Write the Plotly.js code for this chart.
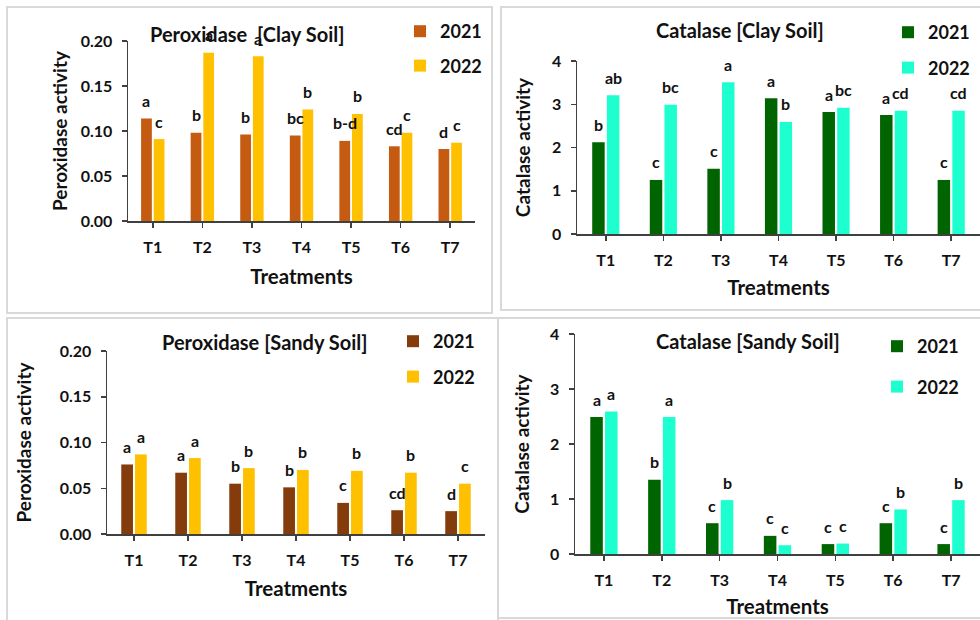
<!DOCTYPE html>
<html>
<head>
<meta charset="utf-8">
<script src="https://cdn.plot.ly/plotly-3.0.1.min.js"></script>
<style>html,body{margin:0;padding:0;background:#fff;}#chart{width:980px;height:620px;}</style>
</head>
<body>
<div id="chart"></div>
<script>
// ---- data ----
const categories = ['T1','T2','T3','T4','T5','T6','T7'];
const seriesNames = ['2021','2022'];

const peroxClay2021 = [0.114, 0.098, 0.096, 0.095, 0.089, 0.083, 0.080];
const peroxClay2022 = [0.091, 0.187, 0.183, 0.124, 0.119, 0.098, 0.087];
const peroxClayLetters2021 = ['a','b','b','bc','b-d','cd','d'];
const peroxClayLetters2022 = ['c','a','a','b','b','c','c'];

const catClay2021 = [2.12, 1.25, 1.51, 3.14, 2.82, 2.75, 1.25];
const catClay2022 = [3.21, 2.99, 3.51, 2.59, 2.92, 2.85, 2.85];
const catClayLetters2021 = ['b','c','c','a','a','a','c'];
const catClayLetters2022 = ['ab','bc','a','b','bc','cd','cd'];

const peroxSandy2021 = [0.076, 0.067, 0.055, 0.051, 0.034, 0.026, 0.025];
const peroxSandy2022 = [0.087, 0.083, 0.072, 0.070, 0.069, 0.067, 0.055];
const peroxSandyLetters2021 = ['a','a','b','b','c','cd','d'];
const peroxSandyLetters2022 = ['a','a','b','b','b','b','c'];

const catSandy2021 = [2.49, 1.35, 0.56, 0.33, 0.18, 0.56, 0.18];
const catSandy2022 = [2.59, 2.49, 0.98, 0.16, 0.19, 0.81, 0.98];
const catSandyLetters2021 = ['a','b','c','c','c','c','c'];
const catSandyLetters2022 = ['a','a','b','c','c','b','b'];

const titles = ['Peroxidase  [Clay Soil]','Catalase [Clay Soil]','Peroxidase [Sandy Soil]','Catalase [Sandy Soil]'];
const yTitles = ['Peroxidase activity','Catalase activity','Peroxidase activity','Catalase activity'];
const xTitle = 'Treatments';

// ---- styling / layout ----
const W = 980, H = 620;
const FONT = 'Lato, "Open Sans", "Liberation Sans", sans-serif';
const BARGAP = 0.49, BARGROUPGAP = 0.15;

const panels = [
  {v:[peroxClay2021, peroxClay2022], l:[peroxClayLetters2021, peroxClayLetters2022],
   colors:['#C55A11','#FFC000'], x:[128,475], y:[221,41], range:[0,0.2], dtick:0.05, fmt:'.2f',
   ystand:8, xstand:15, title:[247,34], legend:[400,13], lgap:8},
  {v:[catClay2021, catClay2022], l:[catClayLetters2021, catClayLetters2022],
   colors:['#006400','#1EFFD0'], x:[577,980], y:[234,61], range:[0,4], dtick:1, fmt:'d',
   ystand:16, xstand:13, title:[740,30], legend:[888,14], lgap:9},
  {v:[peroxSandy2021, peroxSandy2022], l:[peroxSandyLetters2021, peroxSandyLetters2022],
   colors:['#843C0C','#FFC000'], x:[107,485], y:[534,351], range:[0,0.2], dtick:0.05, fmt:'.2f',
   ystand:23, xstand:14, title:[265,342], legend:[393,323], lgap:9},
  {v:[catSandy2021, catSandy2022], l:[catSandyLetters2021, catSandyLetters2022],
   colors:['#006400','#1EFFD0'], x:[575,980], y:[554,334], range:[0,4], dtick:1, fmt:'d',
   ystand:15, xstand:12, title:[748,341], legend:[877,328], lgap:14}
];

const traces = [];
const annotations = [];
const layout = {
  width: W, height: H,
  margin: {l:0, r:0, t:0, b:0},
  paper_bgcolor: '#fff', plot_bgcolor: '#fff',
  barmode: 'group', bargap: BARGAP, bargroupgap: BARGROUPGAP,
  font: {family: FONT, color: '#111', weight: 'bold'},
  showlegend: true,
  shapes: [
    {type:'rect', xref:'paper', yref:'paper', x0:7/W, x1:492/W, y0:1-313/H, y1:1-7/H, line:{color:'#d9d9d9', width:2}},
    {type:'rect', xref:'paper', yref:'paper', x0:501/W, x1:990/W, y0:1-310/H, y1:1-7/H, line:{color:'#d9d9d9', width:2}},
    {type:'rect', xref:'paper', yref:'paper', x0:7/W, x1:498/W, y0:-10/H, y1:1-318/H, line:{color:'#d9d9d9', width:2}},
    {type:'rect', xref:'paper', yref:'paper', x0:498/W, x1:990/W, y0:1-618/H, y1:1-318/H, line:{color:'#d9d9d9', width:2}}
  ],
  annotations: annotations
};

panels.forEach((p, i) => {
  const n = i + 1;
  const xa = 'x' + (n === 1 ? '' : n), ya = 'y' + (n === 1 ? '' : n);
  const xkey = 'xaxis' + (n === 1 ? '' : n), ykey = 'yaxis' + (n === 1 ? '' : n);
  const legKey = 'legend' + (n === 1 ? '' : n);

  p.v.forEach((vals, s) => {
    traces.push({
      type: 'bar', name: seriesNames[s], x: categories, y: vals,
      xaxis: xa, yaxis: ya, legend: legKey, legendgroup: 'g' + n + s,
      marker: {color: p.colors[s], line: {width: 0}},
      hoverinfo: 'x+y'
    });
  });

  layout[xkey] = {
    domain: [p.x[0]/W, p.x[1]/W], anchor: ya,
    showline: true, linecolor: '#404040', linewidth: 1.5,
    ticks: 'outside', ticklen: 5, tickcolor: '#404040', tickwidth: 1.5,
    ticklabelstandoff: 6,
    tickfont: {family: FONT, size: 16, color: '#111', weight: 'bold'},
    showgrid: false, zeroline: false, fixedrange: true,
    title: {text: xTitle, standoff: p.xstand, font: {family: FONT, size: 20.5, color: '#111', weight: 'bold'}}
  };
  layout[ykey] = {
    domain: [1 - p.y[0]/H, 1 - p.y[1]/H], anchor: xa,
    range: p.range, dtick: p.dtick, tick0: 0, tickformat: p.fmt,
    showline: true, linecolor: '#404040', linewidth: 1.5,
    ticks: 'outside', ticklen: 5, tickcolor: '#404040', tickwidth: 1.5,
    ticklabelstandoff: 6,
    tickfont: {family: FONT, size: 16, color: '#111', weight: 'bold'},
    showgrid: false, zeroline: false, fixedrange: true,
    title: {text: yTitles[i], standoff: p.ystand, font: {family: FONT, size: 19, color: '#111', weight: 'bold'}}
  };
  layout[legKey] = {
    x: p.legend[0]/W, y: 1 - p.legend[1]/H, xanchor: 'left', yanchor: 'top',
    bgcolor: 'rgba(0,0,0,0)', borderwidth: 0,
    traceorder: 'grouped', tracegroupgap: p.lgap,
    font: {family: FONT, size: 18, color: '#111', weight: 'bold'}
  };

  // panel title
  annotations.push({
    xref: 'paper', yref: 'paper', x: p.title[0]/W, y: 1 - p.title[1]/H,
    xanchor: 'center', yanchor: 'middle', showarrow: false, text: titles[i],
    font: {family: FONT, size: 20, color: '#111', weight: 'bold'}
  });

  // significance letters above bars
  const spacing = (p.x[1] - p.x[0]) / categories.length;
  const off = spacing * (1 - BARGAP) / 4;
  p.l.forEach((letters, s) => {
    letters.forEach((t, k) => {
      annotations.push({
        xref: xa, yref: ya, x: categories[k], y: p.v[s][k],
        xshift: s === 0 ? -off : off, yshift: 18,
        xanchor: 'center', yanchor: 'middle', showarrow: false, text: t,
        font: {family: FONT, size: 16, color: '#111', weight: 'bold'}
      });
    });
  });
});

Plotly.newPlot('chart', traces, layout, {displayModeBar: false, staticPlot: true});
</script>
</body>
</html>
